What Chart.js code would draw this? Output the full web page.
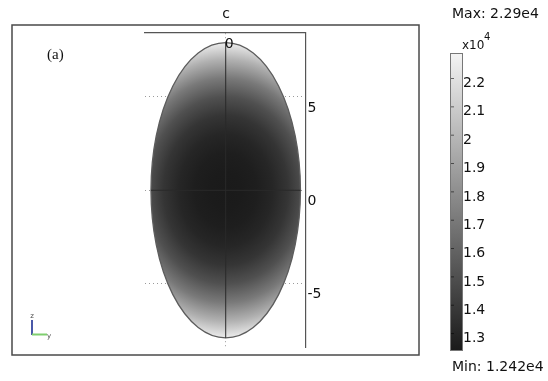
<!DOCTYPE html>
<html>
<head>
<meta charset="utf-8">
<script src="https://cdn.jsdelivr.net/npm/chart.js@4"></script>
<style>
  html, body { margin: 0; padding: 0; background: #fff; }
  #plot { display: block; }
</style>
</head>
<body>
<canvas id="plot" width="548" height="381"></canvas>
<script>
// surface plot of c over the elliptic domain, values in units of 1e4
var cMin = 1.242;
var cMax = 2.29;
var domainSemiAxes = [4, 7.9];          // half width, half height
// c along the long (vertical) axis; level curves are ellipses, taller by contourAspect
var profileRadius = [0, 1, 2, 3, 4, 5, 6, 7, 8];
var profileValue = [1.242, 1.245, 1.26, 1.30, 1.37, 1.50, 1.70, 1.97, 2.29];
var contourAspect = 1.2;
var xTickValues = [0];
var yTickValues = [-5, 0, 5];
var barTicks = [1.3, 1.4, 1.5, 1.6, 1.7, 1.8, 1.9, 2.0, 2.1, 2.2];
var barTickLabels = ['1.3', '1.4', '1.5', '1.6', '1.7', '1.8', '1.9', '2', '2.1', '2.2'];
var sectionH = [{ x: -4, y: 0 }, { x: 4, y: 0 }];
var sectionV = [{ x: 0, y: -7.9 }, { x: 0, y: 7.9 }];

var FONT = '"DejaVu Sans", Verdana, sans-serif';

function grayFor(c) {
  var t = (c - cMin) / (cMax - cMin);
  t = Math.max(0, Math.min(1, t));
  var g = Math.round(26 + t * (244 - 26));
  return 'rgb(' + g + ',' + g + ',' + g + ')';
}

var fieldPlugin = {
  id: 'field',
  beforeDatasetsDraw: function(chart) {
    var ctx = chart.ctx, xs = chart.scales.x, ys = chart.scales.y;
    var cx = xs.getPixelForValue(0), cy = ys.getPixelForValue(0);
    var rx = xs.getPixelForValue(domainSemiAxes[0]) - cx;
    var ry = cy - ys.getPixelForValue(domainSemiAxes[1]);
    var rMax = profileRadius[profileRadius.length - 1];
    var rPx = cy - ys.getPixelForValue(rMax);

    // fill in a horizontally squeezed frame so the radial gradient gives elliptic levels
    ctx.save();
    ctx.translate(cx, cy);
    ctx.scale(1 / contourAspect, 1);
    var grad = ctx.createRadialGradient(0, 0, 0, 0, 0, rPx);
    for (var i = 0; i < profileRadius.length; i++) {
      grad.addColorStop(profileRadius[i] / rMax, grayFor(profileValue[i]));
    }
    ctx.beginPath();
    ctx.ellipse(0, 0, rx * contourAspect, ry, 0, 0, Math.PI * 2);
    ctx.fillStyle = grad;
    ctx.fill();
    ctx.restore();

    ctx.save();
    ctx.beginPath();
    ctx.ellipse(cx, cy, rx, ry, 0, 0, Math.PI * 2);
    ctx.lineWidth = 1.3;
    ctx.strokeStyle = '#5c5c5c';
    ctx.stroke();
    ctx.restore();
  },
  afterDraw: function(chart) {
    var ctx = chart.ctx, xs = chart.scales.x;
    ctx.save();

    // outer frame
    ctx.strokeStyle = '#4a4a4a';
    ctx.lineWidth = 1.5;
    ctx.strokeRect(12, 25, 407, 330);

    // title and x tick label drawn inside the axes box
    ctx.fillStyle = '#111';
    ctx.font = '14px ' + FONT;
    ctx.textAlign = 'center';
    ctx.textBaseline = 'middle';
    ctx.fillText('c', 226, 14);
    xTickValues.forEach(function(v) {
      ctx.fillText(String(v), xs.getPixelForValue(v) + 3.5, 44);
    });

    // color bar
    var bx = 450, bw = 12, top = 53, bottom = 350;
    var g = ctx.createLinearGradient(0, bottom, 0, top);
    g.addColorStop(0, grayFor(cMin));
    g.addColorStop(1, grayFor(cMax));
    ctx.fillStyle = g;
    ctx.fillRect(bx, top, bw, bottom - top);
    ctx.strokeStyle = '#777';
    ctx.lineWidth = 1;
    ctx.strokeRect(bx + 0.5, top + 0.5, bw, bottom - top);

    ctx.fillStyle = '#111';
    ctx.textAlign = 'left';
    barTicks.forEach(function(v, i) {
      var py = bottom - (v - cMin) / (cMax - cMin) * (bottom - top);
      ctx.strokeStyle = 'rgba(0,0,0,0.55)';
      ctx.beginPath();
      ctx.moveTo(bx + 1, py);
      ctx.lineTo(bx + 4, py);
      ctx.stroke();
      ctx.fillText(barTickLabels[i], 463, py + 5);
    });

    ctx.fillText('Max: 2.29e4', 452, 14);
    ctx.fillText('Min: 1.242e4', 452, 367);
    ctx.font = '12px ' + FONT;
    ctx.fillText('x10', 462, 46);
    ctx.font = '10px ' + FONT;
    ctx.fillText('4', 484, 37);

    // panel label
    ctx.font = '15px "Liberation Serif", "Times New Roman", serif';
    ctx.fillText('(a)', 47, 55);

    // axis orientation glyph
    ctx.lineWidth = 2;
    ctx.strokeStyle = '#4a58a8';
    ctx.beginPath();
    ctx.moveTo(32, 320);
    ctx.lineTo(32, 335);
    ctx.stroke();
    ctx.strokeStyle = '#7fcf6f';
    ctx.beginPath();
    ctx.moveTo(32, 334.5);
    ctx.lineTo(47, 334.5);
    ctx.stroke();
    ctx.fillStyle = '#444';
    ctx.font = '7px ' + FONT;
    ctx.textAlign = 'center';
    ctx.fillText('z', 32, 316);
    ctx.fillText('y', 49, 336);

    ctx.restore();
  }
};

new Chart(document.getElementById('plot'), {
  type: 'scatter',
  data: {
    datasets: [
      { data: sectionH, showLine: true, borderColor: '#2a2a2a', borderWidth: 1, pointRadius: 0 },
      { data: sectionV, showLine: true, borderColor: '#2a2a2a', borderWidth: 1, pointRadius: 0 }
    ]
  },
  options: {
    responsive: false,
    animation: false,
    events: [],
    layout: { padding: { left: 145, top: 33, right: 202.5, bottom: 34 } },
    plugins: { legend: { display: false }, tooltip: { enabled: false } },
    scales: {
      x: {
        type: 'linear',
        position: 'top',
        min: -4.32,
        max: 4.27,
        afterBuildTicks: function(s) { s.ticks = xTickValues.map(function(v) { return { value: v }; }); },
        afterFit: function(s) { s.height = 0; },
        ticks: { display: false },
        grid: { drawTicks: false, color: '#9a9a9a', lineWidth: 1 },
        border: { display: true, color: '#555', width: 1.2, dash: [1, 3] }
      },
      y: {
        type: 'linear',
        position: 'right',
        min: -8.39,
        max: 8.42,
        afterBuildTicks: function(s) { s.ticks = yTickValues.map(function(v) { return { value: v }; }); },
        afterFit: function(s) { s.width = 40; },
        ticks: { color: '#111', font: { family: FONT, size: 14 }, padding: 2, labelOffset: 11 },
        grid: { drawTicks: false, color: '#9a9a9a', lineWidth: 1 },
        border: { display: true, color: '#555', width: 1.2, dash: [1, 3] }
      }
    }
  },
  plugins: [fieldPlugin]
});
</script>
</body>
</html>
